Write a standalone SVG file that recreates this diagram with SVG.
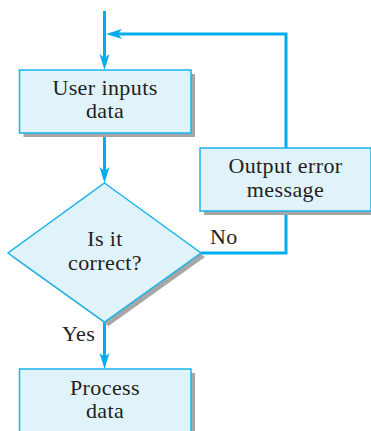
<svg xmlns="http://www.w3.org/2000/svg" width="371" height="431" viewBox="0 0 371 431">
<style>
.box{fill:#e0f2fa;stroke:#1ab4ec;stroke-width:1.5}
.shadow{fill:#a6a6a6}
.line{fill:none;stroke:#00aeef;stroke-width:3}
.arrow{fill:#00aeef}
text{font-family:"Liberation Serif","Times New Roman",serif;font-size:22px;letter-spacing:0.4px;fill:#231f20;text-anchor:middle}
.lbl{text-anchor:start}
</style>
<defs>
<path id="ah" d="M0,0 L-5,-16 L0,-12 L5,-16 Z"/>
</defs>
<g id="connectors">
<line class="line" x1="104.5" y1="11" x2="104.5" y2="60"/>
<use href="#ah" class="arrow" transform="translate(104.5,70)"/>
<polyline class="line" points="117,34 286,34 286,148"/>
<use href="#ah" class="arrow" transform="translate(106,34) rotate(90)"/>
<line class="line" x1="104.5" y1="133" x2="104.5" y2="173"/>
<use href="#ah" class="arrow" transform="translate(104.5,183)"/>
<polyline class="line" points="201,253 286,253 286,214"/>
<line class="line" x1="104.5" y1="322" x2="104.5" y2="359"/>
<use href="#ah" class="arrow" transform="translate(104.5,369)"/>
<text class="lbl" x="210" y="244">No</text>
<text class="lbl" x="62" y="341">Yes</text>
</g>
<g id="input">
<rect class="shadow" x="23.5" y="74" width="171.5" height="63"/>
<rect class="box" x="19.5" y="70" width="171.5" height="63"/>
<text x="105" y="95">User inputs</text>
<text x="105" y="118">data</text>
</g>
<g id="decision">
<polygon class="shadow" points="108.5,187 205,257 108.5,326 12,257"/>
<polygon class="box" points="104.5,183 201,253 104.5,322 8,253"/>
<text x="105" y="246">Is it</text>
<text x="105" y="270">correct?</text>
</g>
<g id="error">
<rect class="shadow" x="204" y="152" width="171" height="63"/>
<rect class="box" x="200" y="148" width="171" height="63"/>
<text x="285.5" y="173">Output error</text>
<text x="285.5" y="197">message</text>
</g>
<g id="process">
<rect class="shadow" x="23.5" y="373" width="171.5" height="63"/>
<rect class="box" x="19.5" y="369" width="171.5" height="63"/>
<text x="105" y="395">Process</text>
<text x="105" y="418">data</text>
</g>
</svg>
